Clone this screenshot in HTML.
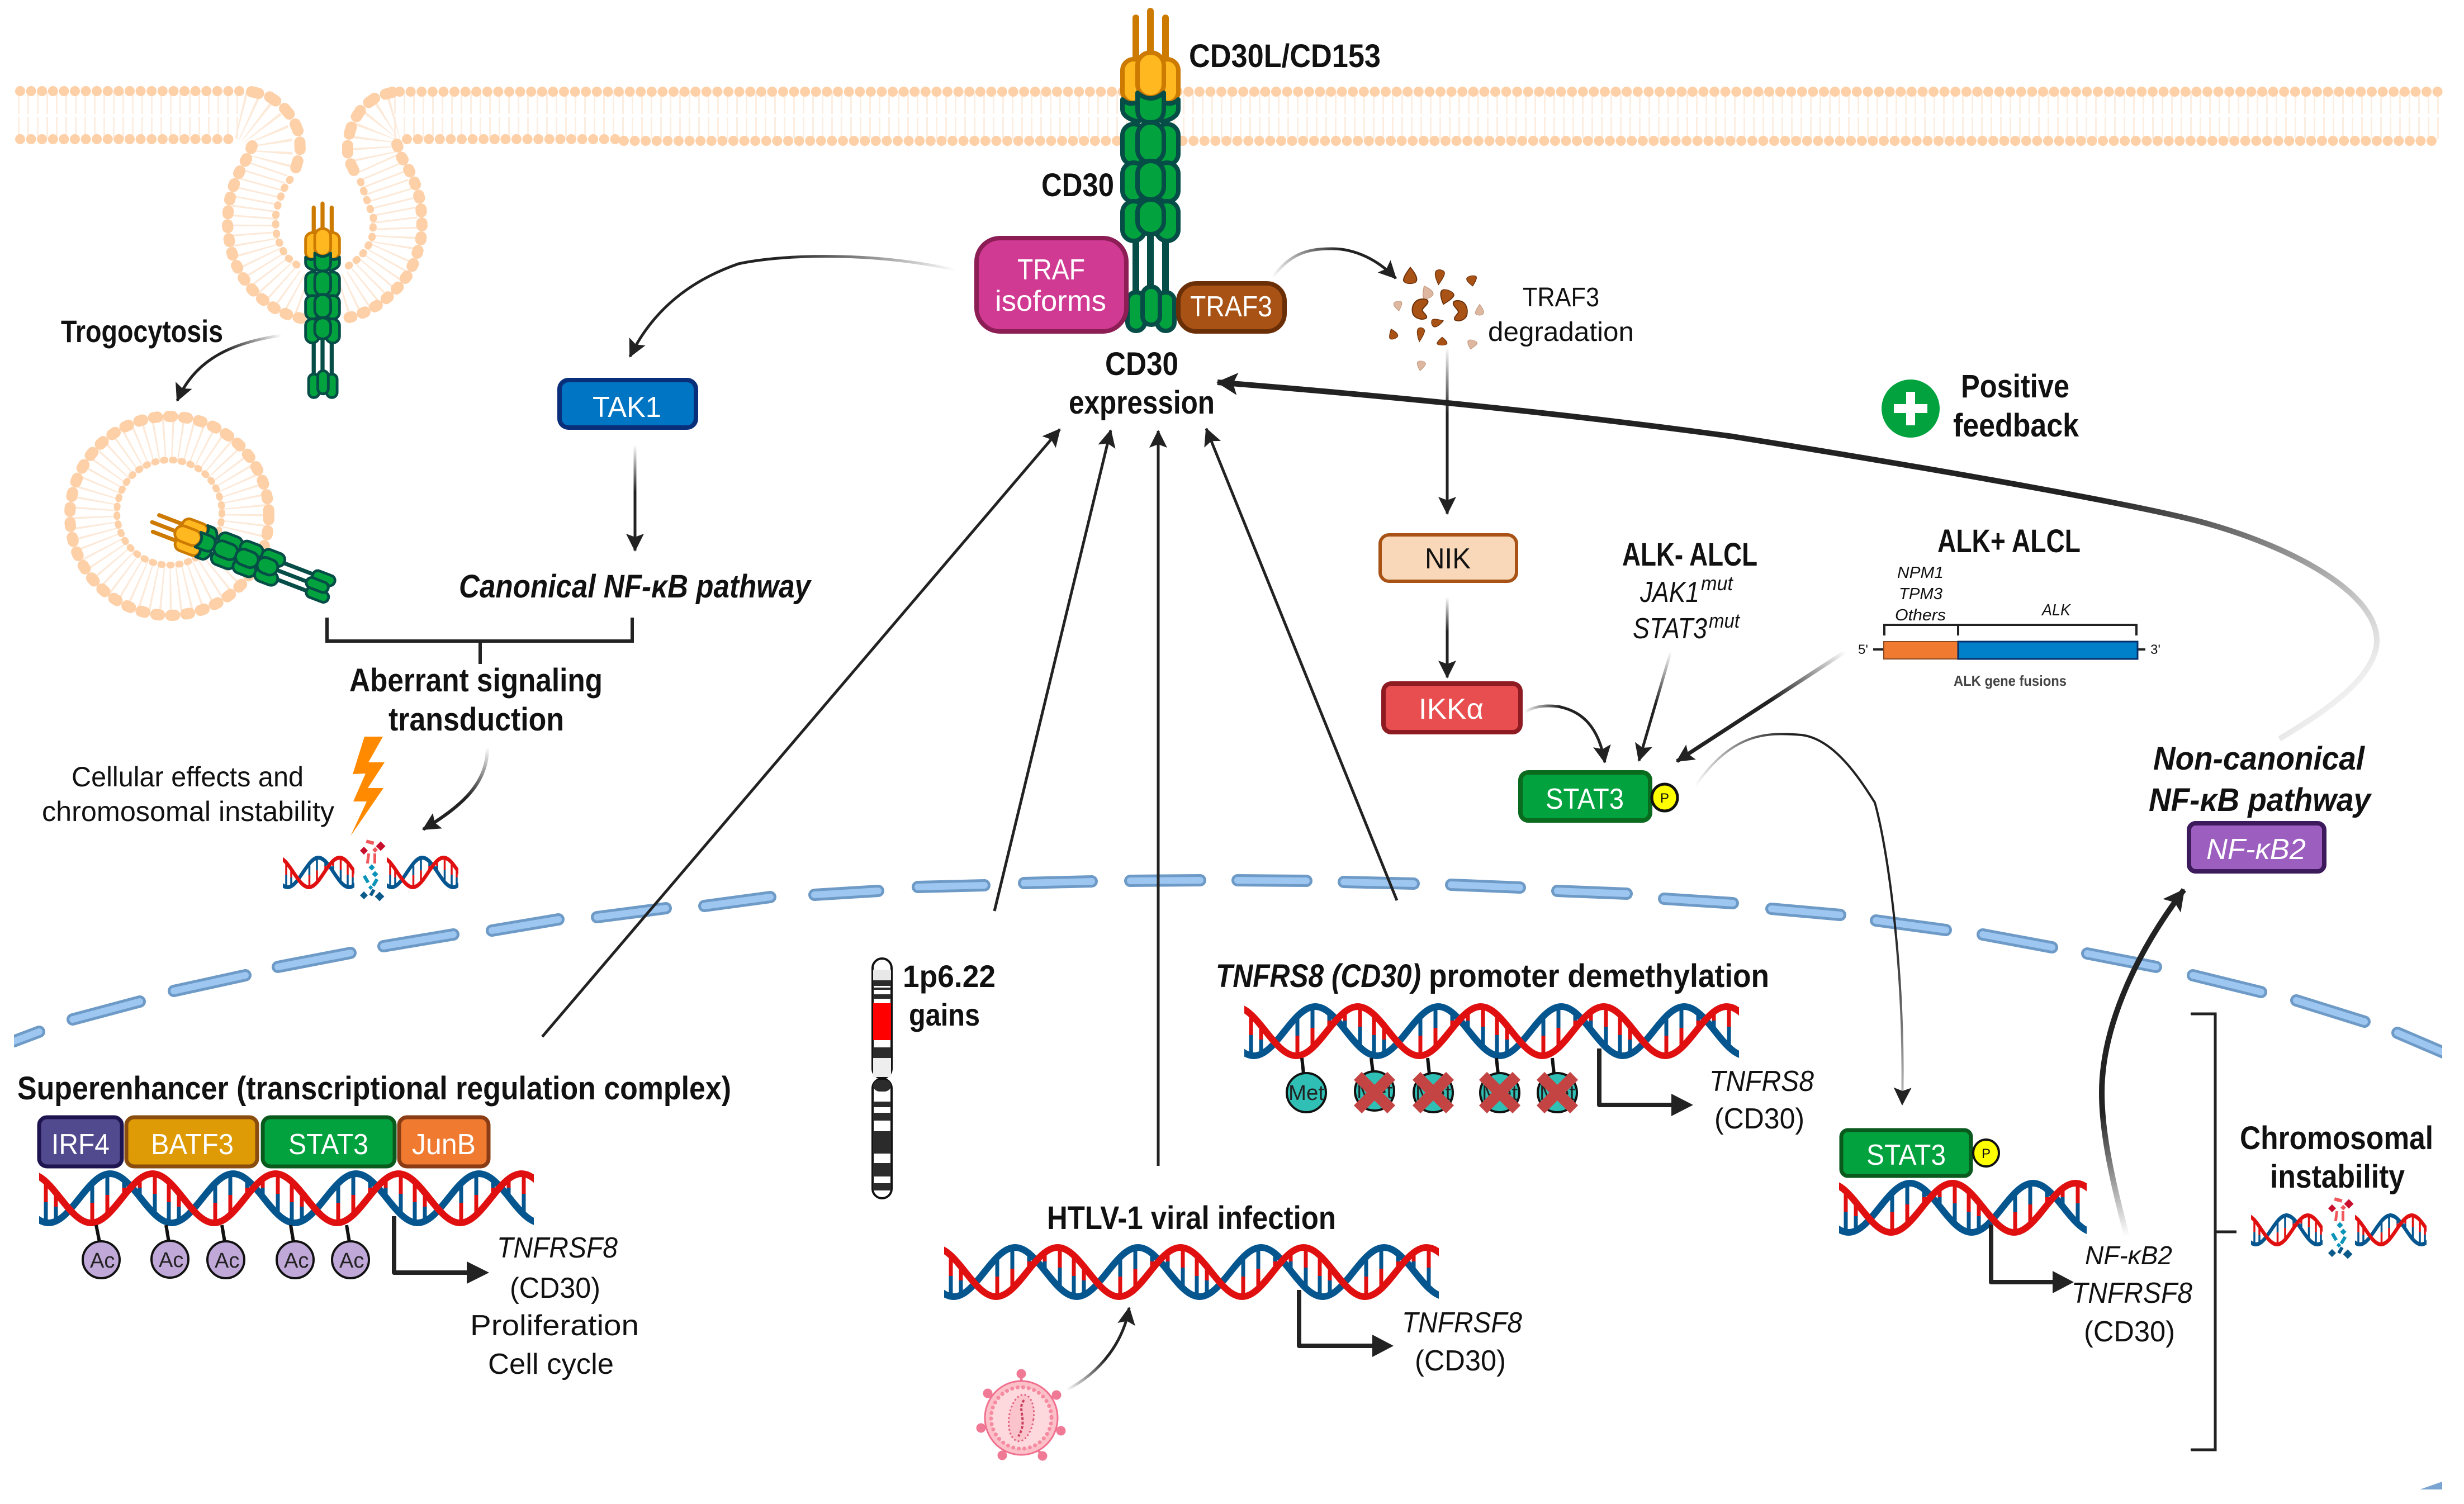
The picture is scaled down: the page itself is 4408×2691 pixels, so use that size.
<!DOCTYPE html>
<html><head><meta charset="utf-8"><title>CD30 signaling</title>
<style>
html,body{margin:0;padding:0;background:#fff}
svg{display:block}
text{font-family:"Liberation Sans",sans-serif;fill:#111}
.b{font-weight:700;font-size:58px}
.r{font-size:52px}
.i{font-style:italic}
.bi{font-weight:700;font-style:italic;font-size:58px}
.w{fill:#fff}
.ln{fill:none;stroke:#222;stroke-width:5}
.th{fill:none;stroke-width:10}
.box{stroke-width:8}
.pr{fill:none;stroke:#222;stroke-width:8;stroke-linejoin:round}
.lip{fill:none;stroke:#fdd0a8;stroke-linecap:round}
.tail{fill:none;stroke:#fde9d8}
</style></head><body>
<svg width="4408" height="2691" viewBox="0 0 4408 2691" xmlns="http://www.w3.org/2000/svg">
<defs>
<marker id="a" markerUnits="userSpaceOnUse" markerWidth="34" markerHeight="34" refX="30" refY="16" orient="auto" overflow="visible"><path d="M32,16 L0,0 L6,16 L0,32Z" fill="#222"/></marker>
<marker id="a2" markerUnits="userSpaceOnUse" markerWidth="46" markerHeight="46" refX="36" refY="20" orient="auto" overflow="visible"><path d="M38,20 L0,0 L8,20 L0,40Z" fill="#222"/></marker>
<linearGradient id="g" ><stop offset="0" stop-color="#fff"/><stop offset="1" stop-color="#222"/></linearGradient>
<linearGradient id="g1" href="#g" gradientUnits="userSpaceOnUse" x1="504" y1="600" x2="400" y2="620"/>
<linearGradient id="g2" href="#g" gradientUnits="userSpaceOnUse" x1="1709" y1="483" x2="1400" y2="459"/>
<linearGradient id="g3" href="#g" gradientUnits="userSpaceOnUse" x1="1136" y1="796" x2="1136" y2="880"/>
<linearGradient id="g4" href="#g" gradientUnits="userSpaceOnUse" x1="872" y1="1337" x2="850" y2="1430"/>
<linearGradient id="g5" href="#g" gradientUnits="userSpaceOnUse" x1="2276" y1="497" x2="2400" y2="445"/>
<linearGradient id="g6" href="#g" gradientUnits="userSpaceOnUse" x1="2589" y1="620" x2="2589" y2="740"/>
<linearGradient id="g7" href="#g" gradientUnits="userSpaceOnUse" x1="2589" y1="1068" x2="2589" y2="1130"/>
<linearGradient id="g8" href="#g" gradientUnits="userSpaceOnUse" x1="2727" y1="1275" x2="2790" y2="1264"/>
<linearGradient id="g9" href="#g" gradientUnits="userSpaceOnUse" x1="2989" y1="1166" x2="2965" y2="1260"/>
<linearGradient id="g10" href="#g" gradientUnits="userSpaceOnUse" x1="3301" y1="1166" x2="3170" y2="1250"/>
<linearGradient id="g11" href="#g" gradientUnits="userSpaceOnUse" x1="3032" y1="1407" x2="3200" y2="1315"/>
<linearGradient id="g12" href="#g" gradientUnits="userSpaceOnUse" x1="4150" y1="1340" x2="3750" y2="890"/>
<linearGradient id="g13" href="#g" gradientUnits="userSpaceOnUse" x1="3805" y1="2212" x2="3765" y2="1990"/>
<linearGradient id="g15" href="#g" gradientUnits="userSpaceOnUse" x1="1908" y1="2487" x2="1985" y2="2440"/>

<clipPath id="c885"><rect x="0" y="-4" width="885" height="108"/></clipPath>
<clipPath id="c443"><rect x="0" y="-4" width="443" height="108"/></clipPath>
<clipPath id="c256"><rect x="0" y="-4" width="256" height="108"/></clipPath>
<g id="rp" stroke-width="7">
<path d="M12 20V57" stroke="#e01010"/><path d="M12 57V94" stroke="#05558f"/>
<path d="M30 40V65" stroke="#e01010"/><path d="M30 65V91" stroke="#05558f"/>
<path d="M95 23V58" stroke="#05558f"/><path d="M95 58V94" stroke="#e01010"/>
<path d="M122 6V44" stroke="#05558f"/><path d="M122 44V80" stroke="#e01010"/>
<path d="M152 17V31" stroke="#05558f"/><path d="M152 31V45" stroke="#e01010"/>
<path d="M180 15V31" stroke="#e01010"/><path d="M180 31V48" stroke="#05558f"/>
<path d="M207 6V42" stroke="#e01010"/><path d="M207 42V79" stroke="#05558f"/>
</g>
<g id="dnaC">
<use href="#rp"/><use href="#rp" x="220"/><use href="#rp" x="440"/><use href="#rp" x="660"/>
<path d="M-93 6C-53 6 -23 94 17 94S87 6 127 6S197 94 237 94S307 6 347 6S417 94 457 94S527 6 567 6S637 94 677 94S747 6 787 6S857 94 897 94" fill="none" stroke="#05558f" stroke-width="12"/>
<path d="M-17 6C23 6 53 94 93 94S163 6 203 6S273 94 313 94S383 6 423 6S493 94 533 94S603 6 643 6S713 94 753 94S823 6 863 6S933 94 973 94" fill="none" stroke="#e01010" stroke-width="12"/>
</g>
<g id="dna"><g clip-path="url(#c885)"><use href="#dnaC"/></g></g>
<g id="dnas"><g clip-path="url(#c443)"><use href="#dnaC"/></g></g>
<g id="dnap"><g clip-path="url(#c256)"><use href="#dnaC"/></g></g>

<g id="frag">
<g fill="#c8102e"><rect x="-6" y="-6" width="12" height="12" transform="translate(16,-46) rotate(45)"/><rect x="-5" y="-5" width="10" height="10" transform="translate(-14,-38) rotate(45)"/></g>
<g fill="#f0585c"><rect x="-7" y="-3" width="14" height="6" transform="translate(-3,-53) rotate(15)"/><rect x="-3" y="-3" width="7" height="7" transform="translate(6,-40) rotate(45)"/><rect x="-3" y="-9" width="5" height="18" transform="translate(-6,-24) rotate(8)"/><rect x="-3" y="-9" width="5" height="18" transform="translate(6,-24)"/></g>
<g fill="#0a93b8"><rect x="-4" y="-4" width="8" height="8" transform="translate(0,-8) rotate(45)"/><rect x="-4" y="-4" width="8" height="8" transform="translate(6,4) rotate(45)"/><rect x="-7" y="-3" width="14" height="6" transform="translate(-10,13) rotate(60)"/><rect x="-7" y="-3" width="14" height="6" transform="translate(6,19) rotate(-60)"/><rect x="-3" y="-3" width="6" height="6" transform="translate(-2,28) rotate(45)"/></g>
<g fill="#0b5a8a"><rect x="-5" y="-5" width="10" height="10" transform="translate(-14,42) rotate(45)"/><rect x="-6" y="-6" width="12" height="12" transform="translate(14,44) rotate(45)"/><rect x="-3" y="-6" width="6" height="12" transform="translate(1,37) rotate(30)"/></g>
</g>

<g id="rec">
<path d="M-26,112V32M27,112V32M0,100V20" fill="none" stroke="#cc7a00" stroke-width="12" stroke-linecap="round"/>
<g fill="#ffb81f" stroke="#cc7a00" stroke-width="8">
<rect x="-50" y="106" width="40" height="78" rx="20"/><rect x="10" y="106" width="40" height="78" rx="20"/>
<rect x="-23" y="94" width="47" height="80" rx="23"/>
</g>
<path d="M-26,420V520M27,420V520M0,420V520" fill="none" stroke="#054d46" stroke-width="12"/>
<g fill="#02a23e" stroke="#054d46" stroke-width="8" stroke-linejoin="round">
<path d="M-50,178Q-38,190 -22,182L-10,182V200Q-10,217 -25,217Q-50,210 -50,195Z"/><path d="M50,178Q38,190 22,182L10,182V200Q10,217 25,217Q50,210 50,195Z"/>
<rect x="-50" y="222" width="40" height="73" rx="20"/><rect x="10" y="222" width="40" height="73" rx="20"/>
<rect x="-50" y="291" width="40" height="70" rx="20"/><rect x="10" y="291" width="40" height="70" rx="20"/>
<rect x="-50" y="360" width="40" height="71" rx="20"/><rect x="10" y="360" width="40" height="71" rx="20"/>
<path d="M-23,166Q0,186 24,166V195Q24,219 0,219Q-23,219 -23,195Z"/>
<rect x="-23" y="219" width="47" height="72" rx="23"/><rect x="-23" y="288" width="47" height="69" rx="23"/><rect x="-23" y="357" width="47" height="62" rx="23"/>
<rect x="-41" y="523" width="31" height="69" rx="15"/><rect x="12" y="523" width="31" height="69" rx="15"/>
<rect x="-14" y="513" width="31" height="68" rx="15"/>
</g>
</g>
<path id="nuc" d="M25,1863L70,1846M130,1824L250,1792M311,1773L439,1745M497,1730L627,1705M686,1693L811,1672M880,1665L999,1645M1068,1641L1191,1625M1260,1621L1378,1605M1457,1601L1571,1594M1642,1587L1761,1584M1832,1580L1953,1577M2022,1576L2147,1575M2214,1575L2337,1576M2404,1578L2529,1581M2596,1583L2719,1588M2786,1594L2910,1599M2977,1608L3100,1616M3169,1626L3292,1637M3356,1647L3481,1664M3547,1672L3671,1695M3734,1706L3857,1730M3923,1745L4045,1775M4108,1790L4230,1828M4289,1848L4385,1889" fill="none" stroke-linecap="round"/>
<clipPath id="cn"><rect x="25" y="1500" width="4344" height="500"/></clipPath>
<g id="x"><path d="M-30,-30L30,30M30,-30L-30,30" stroke="#c44444" stroke-width="20" fill="none"/></g>
<path id="drop" d="M0,-26C8,-10 13,4 11,14C9,25 -9,26 -12,14C-13,4 -6,-12 0,-26Z"/>
<path id="kid" d="M4,-18C-12,-18 -17,-5 -15,6C-13,16 0,20 8,17C14,14 6,8 3,4C0,0 10,-6 12,-11C14,-16 10,-18 4,-18Z"/>
</defs>

<rect width="4408" height="2691" fill="#fff"/>

<!-- plasma membrane -->
<path class="tail" stroke-width="86" stroke-dasharray="3 14" d="M32,206H430M705,206H4369" style="stroke:#fdeee2"/>
<path d="M32,206.500H430M705,206.500H4369" stroke="#fff" stroke-width="5" fill="none"/>
<path class="tail" stroke-width="84" stroke-dasharray="3 12" d="M430,206C470,215 490,250 478,290C460,340 445,400 460,450C475,490 510,525 545,535"/>
<path class="tail" stroke-width="84" stroke-dasharray="3 12" d="M705,206C670,215 660,250 672,290C695,340 715,400 702,450C685,490 650,525 612,535"/>
<path class="lip" stroke-width="18" stroke-dasharray="0 19.600" d="M36,163H436M715,164H4369"/>
<path class="lip" stroke-width="18" stroke-dasharray="0 19.600" d="M36,249H427M728,249H1110M1116,252H4369"/>
<path class="lip" stroke-width="20" stroke-dasharray="13 21" d="M450,164L479,171L504,188L524,212L536,241L537,273L529,301"/>
<path class="lip" stroke-width="13" stroke-dasharray="2 15" d="M519,321L509,336L498,362L493,387L493,400L495,424L511,458L536,478"/>
<path class="lip" stroke-width="20" stroke-dasharray="13 21" d="M702,165L674,173L649,191L631,219L622,249L622,282L634,307"/>
<path class="lip" stroke-width="13" stroke-dasharray="2 15" d="M645,325L656,357L668,389L668,400L665,430L645,460L620,478"/>
<path class="lip" stroke-width="20" stroke-dasharray="5 20" d="M451,261L444,279L435,295L425,314L417,335L411,357L408,379L407,402L409,424L413,446L420,469L431,491L444,510L460,528L479,543L498,556L520,565L545,571"/>
<path class="lip" stroke-width="20" stroke-dasharray="5 20" d="M710,258L718,281L728,297L738,317L746,338L752,360L754,383L755,406L753,428L747,451L739,473L728,494L713,513L696,530L679,544L658,556L637,565L612,571"/>
<!-- vesicle -->
<circle cx="303" cy="920" r="136" class="tail" stroke-width="84" stroke-dasharray="3 12"/>
<circle cx="303" cy="923" r="178" class="lip" stroke-width="20" stroke-dasharray="7 20"/>
<circle cx="303" cy="917" r="94" class="lip" stroke-width="12" stroke-dasharray="3 13"/>

<use href="#rec" transform="translate(577,352) scale(.607)"/>
<use href="#rec" transform="translate(261,930) rotate(-69) scale(.6)"/>
<use href="#rec" transform="translate(2058,0)"/>

<!-- nuclear envelope -->
<g clip-path="url(#cn)"><use href="#nuc" stroke="#6d9ac6" stroke-width="22"/><use href="#nuc" stroke="#9dc6f1" stroke-width="12"/></g>
<path d="M4329,2665L4369,2651V2665Z" fill="#7aa5d2"/>

<!-- connectors -->
<path class="ln" style="stroke:url(#g1)" marker-end="url(#a)" d="M504,600C420,612 350,640 317,717"/>
<path class="ln" style="stroke:url(#g2)" marker-end="url(#a)" d="M1709,483C1560,450 1400,455 1321,472C1240,500 1170,550 1127,638"/>
<path class="ln" style="stroke:url(#g3)" marker-end="url(#a)" d="M1136,796V985"/>
<path class="ln" style="stroke:url(#g4);stroke-width:6" marker-end="url(#a)" d="M872,1337C872,1400 830,1440 757,1484"/>
<path class="ln" style="stroke:url(#g5)" marker-end="url(#a)" d="M2276,497C2310,450 2345,445 2383,445C2425,445 2465,465 2497,498"/>
<path class="ln" style="stroke:url(#g6)" marker-end="url(#a)" d="M2589,625V919"/>
<path class="ln" style="stroke:url(#g7)" marker-end="url(#a)" d="M2589,1068V1212"/>
<path class="ln" style="stroke:url(#g8)" marker-end="url(#a)" d="M2727,1275C2745,1262 2770,1262 2787,1264C2830,1272 2860,1300 2871,1364"/>
<path class="ln" style="stroke:url(#g9)" marker-end="url(#a)" d="M2989,1166L2932,1361"/>
<path class="ln" style="stroke:url(#g10);stroke-width:7" marker-end="url(#a)" d="M3301,1166L3000,1362"/>
<path class="ln" style="stroke:url(#g11);stroke-width:4" marker-end="url(#a)" d="M3032,1407C3100,1310 3160,1310 3223,1315C3280,1322 3325,1390 3354,1436C3380,1530 3408,1750 3403,1976"/>
<path class="th" style="stroke:url(#g12)" marker-end="url(#a2)" d="M4078,1322C4130,1290 4252,1220 4252,1146C4252,1060 4100,980 3953,938C3850,908 3500,845 3100,781C2800,740 2500,710 2178,684"/>
<path class="th" style="stroke:url(#g13)" marker-end="url(#a2)" d="M3805,2212C3775,2100 3760,2020 3760,1955C3760,1850 3810,1720 3907,1592"/>
<path class="ln" marker-end="url(#a)" d="M970,1855L1896,768"/>
<path class="ln" marker-end="url(#a)" d="M1779,1630L1987,770"/>
<path class="ln" marker-end="url(#a)" d="M2072,2086V771"/>
<path class="ln" marker-end="url(#a)" d="M2499,1611L2158,767"/>
<path class="ln" style="stroke:url(#g15)" marker-end="url(#a)" d="M1908,2487C1970,2455 2010,2400 2020,2340"/>
<!-- aberrant bracket -->
<path d="M585,1105V1147H1131V1105M859,1147V1188" fill="none" stroke="#222" stroke-width="6"/>
<path d="M3919,1814H3963V2594H3919M3963,2204H4001" fill="none" stroke="#222" stroke-width="5"/>

<!-- boxes top -->
<rect x="1747" y="426" width="268" height="167" rx="42" fill="#d03a93" stroke="#8c1d55" class="box"/>
<rect x="2108" y="507" width="190" height="86" rx="32" fill="#a85215" stroke="#6b2f08" class="box"/>
<rect x="1001" y="680" width="244" height="85" rx="16" fill="#0075c4" stroke="#0a2f7a" class="box"/>
<rect x="2469" y="957" width="244" height="83" rx="16" fill="#f8d8b8" stroke="#a85215" stroke-width="6"/>
<rect x="2475" y="1223" width="245" height="87" rx="14" fill="#e84e4f" stroke="#8e1a22" class="box"/>
<rect x="2720" y="1382" width="232" height="86" rx="14" fill="#02a23e" stroke="#0a6a1e" class="box"/>
<ellipse cx="2978" cy="1427" rx="23" ry="24" fill="#ff0" stroke="#111" stroke-width="5"/>
<rect x="3916" y="1473" width="242" height="86" rx="12" fill="#9c5fc0" stroke="#3d1a5c" class="box"/>

<circle cx="3418" cy="731" r="52" fill="#02a23e"/>
<path d="M3418,701V761M3388,731H3448" stroke="#fff" stroke-width="16" fill="none"/>

<!-- traf3 degradation fragments -->
<g fill="#a85215" stroke="#6b2f08" stroke-width="2">
<use href="#drop" transform="translate(2523,494) scale(1,.6)"/>
<use href="#drop" transform="translate(2575,495) rotate(186) scale(.7,.55)"/>
<use href="#drop" transform="translate(2633,502) rotate(170) scale(.75,.38)"/>
<use href="#drop" transform="translate(2587,531) rotate(200) scale(1,.55)"/>
<use href="#kid" transform="translate(2542,553)"/>
<use href="#kid" transform="translate(2611,556) scale(-.9,1)"/>
<use href="#drop" transform="translate(2571,577) rotate(75) scale(.6,.45)"/>
<use href="#drop" transform="translate(2492,598) rotate(-20) scale(.65,.38)"/>
<use href="#drop" transform="translate(2541,598) rotate(188) scale(.55,.52)"/>
<use href="#drop" transform="translate(2580,611) scale(.75,.3)"/>
</g>
<g fill="#d9ab90" stroke="#b98a6c" stroke-width="2" opacity=".85">
<use href="#drop" transform="translate(2553,523) rotate(-25) scale(.8,.48)"/>
<use href="#drop" transform="translate(2501,547) rotate(170) scale(.62,.36)"/>
<use href="#drop" transform="translate(2647,555) scale(.62,.4)"/>
<use href="#drop" transform="translate(2633,616) rotate(195) scale(.7,.34)"/>
<use href="#drop" transform="translate(2542,654) rotate(190) scale(.62,.36)"/>
</g>

<!-- bolt -->
<path d="M652,1318H685L659,1364H688L658,1410H686L627,1496L656,1434H632L654,1384L631,1385Z" fill="#ff8a00"/>

<!-- broken DNA -->
<use href="#dnap" transform="translate(506,1531) scale(.5,.6)"/>
<use href="#dnap" transform="translate(692,1531) scale(.5,.6)"/>
<use href="#frag" transform="translate(665,1560)"/>
<use href="#dnap" transform="translate(4027,2171) scale(.5,.59)"/>
<use href="#dnap" transform="translate(4213,2171) scale(.5,.59)"/>
<use href="#frag" transform="translate(4186,2200)"/>

<!-- ALK gene fusion -->
<path d="M3371,1137V1118H3822V1137M3503,1118V1137" fill="none" stroke="#222" stroke-width="4"/>
<path d="M3351,1162H3370M3824,1162H3838" stroke="#222" stroke-width="4" fill="none"/>
<rect x="3370" y="1148" width="133" height="31" fill="#ef7a30" stroke="#8a4a20" stroke-width="2"/>
<rect x="3503" y="1148" width="321" height="31" fill="#0080c8" stroke="#06306a" stroke-width="3"/>

<!-- Superenhancer -->
<rect x="70" y="1999" width="148" height="88" rx="14" fill="#524a8e" stroke="#1e1550" stroke-width="7"/>
<rect x="226" y="1999" width="234" height="88" rx="14" fill="#de9b05" stroke="#8a4d10" stroke-width="7"/>
<rect x="470" y="1999" width="236" height="88" rx="14" fill="#02a23e" stroke="#0a5a1e" stroke-width="7"/>
<rect x="714" y="1999" width="160" height="88" rx="14" fill="#ef7a30" stroke="#8a3c14" stroke-width="7"/>
<use href="#dna" transform="translate(70,2094)"/>
<path d="M172,2192L178,2222M297,2192L302,2222M397,2192L402,2222M520,2192L525,2222M620,2192L625,2222" stroke="#111" stroke-width="6" fill="none"/>
<g fill="#c0a8d8" stroke="#111" stroke-width="4">
<circle cx="181" cy="2254" r="33"/><circle cx="304" cy="2253" r="33"/><circle cx="404" cy="2254" r="33"/><circle cx="528" cy="2254" r="33"/><circle cx="627" cy="2254" r="33"/></g>
<path class="pr" d="M705,2176V2277H840"/><path d="M835,2257L875,2277L835,2297Z" fill="#222"/>

<!-- demethylation -->
<use href="#dna" transform="translate(2226,1795)"/>
<path d="M2329,1893L2332,1921M2453,1893L2456,1918M2554,1893L2557,1921M2677,1893L2680,1921M2777,1893L2780,1921" stroke="#111" stroke-width="6" fill="none"/>
<g fill="#2fbfb5" stroke="#111" stroke-width="4">
<circle cx="2337" cy="1955" r="35"/><circle cx="2459" cy="1952" r="35"/><circle cx="2564" cy="1955" r="35"/><circle cx="2683" cy="1955" r="35"/><circle cx="2786" cy="1955" r="35"/></g>
<path class="pr" d="M2861,1876V1977H2995"/><path d="M2990,1957L3029,1977L2990,1997Z" fill="#222"/>

<!-- HTLV -->
<use href="#dna" transform="translate(1689,2226)"/>
<path class="pr" d="M2324,2308V2408H2460"/><path d="M2455,2388L2493,2408L2455,2428Z" fill="#222"/>
<!-- virus -->
<g stroke="#f07a96" stroke-width="5" fill="#f07a96">
<path d="M1827,2476V2458M1780,2505L1767,2493M1875,2505L1890,2496M1765,2552L1755,2555M1890,2556L1898,2560M1797,2596L1793,2604M1858,2596L1865,2605" fill="none"/>
<circle cx="1827" cy="2458" r="6"/><circle cx="1767" cy="2493" r="6"/><circle cx="1890" cy="2496" r="6"/><circle cx="1755" cy="2555" r="6"/><circle cx="1898" cy="2560" r="6"/><circle cx="1793" cy="2604" r="6"/><circle cx="1865" cy="2605" r="6"/>
</g>
<ellipse cx="1827" cy="2537" rx="65" ry="66" fill="#fcc0c8" stroke="#f0708e" stroke-width="3"/>
<ellipse cx="1827" cy="2537" rx="54" ry="55" fill="#fdd9dd" stroke="#f58aa0" stroke-width="7" stroke-dasharray="0 10" stroke-linecap="round"/>
<ellipse cx="1827" cy="2537" rx="22" ry="42" fill="#fbc4cd" stroke="#e0607e" stroke-width="3" stroke-dasharray="3 4" transform="rotate(8 1827 2537)"/>
<path d="M1832,2505C1818,2522 1840,2540 1822,2570" fill="none" stroke="#c9405f" stroke-width="4" stroke-dasharray="5 3"/>

<!-- chromosome -->
<rect x="1561" y="1715" width="34" height="214" rx="17" fill="#fff" stroke="#111" stroke-width="4"/>
<rect x="1561" y="1930" width="34" height="214" rx="17" fill="#fff" stroke="#111" stroke-width="4"/>
<g fill="#2b2b2b">
<rect x="1562" y="1754" width="32" height="10"/><rect x="1562" y="1767" width="32" height="4"/><rect x="1562" y="1779" width="32" height="8"/>
<rect x="1562" y="1874" width="32" height="19"/>
<rect x="1562" y="1932" width="32" height="21" rx="12"/>
<rect x="1562" y="1971" width="32" height="10"/><rect x="1562" y="1991" width="32" height="14"/><rect x="1562" y="2024" width="32" height="40"/><rect x="1562" y="2081" width="32" height="24"/><rect x="1562" y="2117" width="32" height="13"/>
</g>
<rect x="1562" y="1795" width="32" height="66" fill="#f00"/>
<rect x="1562" y="1735" width="32" height="19" fill="#e8e8e8"/>
<rect x="1562" y="1893" width="32" height="34" fill="#eee"/>

<!-- STAT3 nuclear -->
<rect x="3294" y="2022" width="232" height="82" rx="12" fill="#02a23e" stroke="#0a5a1e" stroke-width="7"/>
<ellipse cx="3553" cy="2063" rx="23" ry="24" fill="#ff0" stroke="#111" stroke-width="4"/>
<use href="#dnas" transform="translate(3290,2111)"/>
<path class="pr" d="M3562,2191V2294H3680"/><path d="M3672,2274L3710,2294L3672,2314Z" fill="#222"/>

<!-- TEXT -->
<text class="b" x="2127" y="120" textLength="343" lengthAdjust="spacingAndGlyphs">CD30L/CD153</text>
<text class="b" x="1863" y="351" textLength="130" lengthAdjust="spacingAndGlyphs">CD30</text>
<text class="r w" x="1820" y="500" textLength="121" lengthAdjust="spacingAndGlyphs">TRAF</text>
<text class="r w" x="1780" y="556" textLength="199" lengthAdjust="spacingAndGlyphs">isoforms</text>
<text class="r w" x="2129" y="566" textLength="147" lengthAdjust="spacingAndGlyphs">TRAF3</text>
<text class="r" style="font-size:48px" x="2724" y="548" textLength="137" lengthAdjust="spacingAndGlyphs">TRAF3</text>
<text class="r" style="font-size:48px" x="2662" y="610" textLength="261" lengthAdjust="spacingAndGlyphs">degradation</text>
<text class="b" x="1977" y="671" textLength="131" lengthAdjust="spacingAndGlyphs">CD30</text>
<text class="b" x="1912" y="740" textLength="261" lengthAdjust="spacingAndGlyphs">expression</text>
<text class="b" style="font-size:56px" x="109" y="612" textLength="290" lengthAdjust="spacingAndGlyphs">Trogocytosis</text>
<text class="r w" x="1060" y="746" textLength="123" lengthAdjust="spacingAndGlyphs">TAK1</text>
<text class="bi" x="821" y="1069" textLength="629" lengthAdjust="spacingAndGlyphs">Canonical NF-κB pathway</text>
<text class="b" x="625" y="1237" textLength="453" lengthAdjust="spacingAndGlyphs">Aberrant signaling</text>
<text class="b" x="695" y="1307" textLength="314" lengthAdjust="spacingAndGlyphs">transduction</text>
<text class="r" style="font-size:50px" x="128" y="1407" textLength="415" lengthAdjust="spacingAndGlyphs">Cellular effects and</text>
<text class="r" style="font-size:50px" x="75" y="1469" textLength="523" lengthAdjust="spacingAndGlyphs">chromosomal instability</text>
<text class="b" x="3508" y="711" textLength="194" lengthAdjust="spacingAndGlyphs">Positive</text>
<text class="b" x="3494" y="781" textLength="225" lengthAdjust="spacingAndGlyphs">feedback</text>
<text class="r" x="2549" y="1017" text-anchor="start" textLength="82" lengthAdjust="spacingAndGlyphs">NIK</text>
<text class="r w" x="2538" y="1286" textLength="116" lengthAdjust="spacingAndGlyphs">IKKα</text>
<text class="b" x="2902" y="1012" textLength="242" lengthAdjust="spacingAndGlyphs">ALK- ALCL</text>
<text class="r i" x="2934" y="1077" textLength="106" lengthAdjust="spacingAndGlyphs">JAK1</text>
<text class="i" style="font-size:36px" x="3043" y="1056" textLength="57" lengthAdjust="spacingAndGlyphs">mut</text>
<text class="r i" x="2921" y="1142" textLength="133" lengthAdjust="spacingAndGlyphs">STAT3</text>
<text class="i" style="font-size:36px" x="3057" y="1123" textLength="55" lengthAdjust="spacingAndGlyphs">mut</text>
<text class="b" x="3466" y="988" textLength="256" lengthAdjust="spacingAndGlyphs">ALK+ ALCL</text>
<text class="i" style="font-size:29px" x="3394" y="1034" textLength="83" lengthAdjust="spacingAndGlyphs">NPM1</text>
<text class="i" style="font-size:29px" x="3397" y="1072" textLength="78" lengthAdjust="spacingAndGlyphs">TPM3</text>
<text class="i" style="font-size:29px" x="3390" y="1110" textLength="91" lengthAdjust="spacingAndGlyphs">Others</text>
<text class="i" style="font-size:29px" x="3653" y="1101" textLength="51" lengthAdjust="spacingAndGlyphs">ALK</text>
<text style="font-size:24px" x="3324" y="1170">5'</text>
<text style="font-size:24px" x="3847" y="1170">3'</text>
<text style="font-size:26px;font-weight:700;fill:#444" x="3495" y="1227" textLength="202" lengthAdjust="spacingAndGlyphs">ALK gene fusions</text>
<text class="r w" x="2765" y="1447" textLength="140" lengthAdjust="spacingAndGlyphs">STAT3</text>
<text style="font-size:24px" x="2970" y="1436">P</text>
<text class="bi" x="3852" y="1377" textLength="378" lengthAdjust="spacingAndGlyphs">Non-canonical</text>
<text class="bi" x="3844" y="1451" textLength="397" lengthAdjust="spacingAndGlyphs">NF-κB pathway</text>
<text class="r i w" x="3947" y="1537" textLength="178" lengthAdjust="spacingAndGlyphs">NF-κB2</text>
<text class="b" x="31" y="1967" textLength="1277" lengthAdjust="spacingAndGlyphs">Superenhancer (transcriptional regulation complex)</text>
<text class="r w" x="92" y="2065" textLength="104" lengthAdjust="spacingAndGlyphs">IRF4</text>
<text class="r w" x="270" y="2065" textLength="148" lengthAdjust="spacingAndGlyphs">BATF3</text>
<text class="r w" x="516" y="2065" textLength="143" lengthAdjust="spacingAndGlyphs">STAT3</text>
<text class="r w" x="737" y="2065" textLength="114" lengthAdjust="spacingAndGlyphs">JunB</text>
<g style="font-size:38px"><text x="161" y="2268" style="fill:#222">Ac</text><text x="284" y="2267" style="fill:#222">Ac</text><text x="384" y="2268" style="fill:#222">Ac</text><text x="508" y="2268" style="fill:#222">Ac</text><text x="607" y="2268" style="fill:#222">Ac</text></g>
<text class="r i" x="889" y="2250" textLength="216" lengthAdjust="spacingAndGlyphs">TNFRSF8</text>
<text class="r" x="912" y="2322" textLength="162" lengthAdjust="spacingAndGlyphs">(CD30)</text>
<text class="r" x="841" y="2389" textLength="302" lengthAdjust="spacingAndGlyphs">Proliferation</text>
<text class="r" x="873" y="2458" textLength="225" lengthAdjust="spacingAndGlyphs">Cell cycle</text>
<text class="b" style="font-size:56px" x="1615" y="1766" textLength="166" lengthAdjust="spacingAndGlyphs">1p6.22</text>
<text class="b" style="font-size:56px" x="1626" y="1835" textLength="127" lengthAdjust="spacingAndGlyphs">gains</text>
<text class="bi" x="2175" y="1766" textLength="367" lengthAdjust="spacingAndGlyphs">TNFRS8 (CD30)</text>
<text class="b" x="2556" y="1766" textLength="609" lengthAdjust="spacingAndGlyphs">promoter demethylation</text>
<g style="font-size:38px"><text x="2305" y="1968" textLength="64" lengthAdjust="spacingAndGlyphs" style="fill:#222">Met</text><text x="2427" y="1965" textLength="64" lengthAdjust="spacingAndGlyphs" style="fill:#222">Met</text><text x="2532" y="1968" textLength="64" lengthAdjust="spacingAndGlyphs" style="fill:#222">Met</text><text x="2651" y="1968" textLength="64" lengthAdjust="spacingAndGlyphs" style="fill:#222">Met</text><text x="2754" y="1968" textLength="64" lengthAdjust="spacingAndGlyphs" style="fill:#222">Met</text></g>
<use href="#x" transform="translate(2459,1955)"/><use href="#x" transform="translate(2564,1955)"/><use href="#x" transform="translate(2683,1955)"/><use href="#x" transform="translate(2786,1955)"/>
<text class="r i" x="3058" y="1952" textLength="187" lengthAdjust="spacingAndGlyphs">TNFRS8</text>
<text class="r" x="3067" y="2019" textLength="161" lengthAdjust="spacingAndGlyphs">(CD30)</text>
<text class="b" x="1873" y="2199" textLength="517" lengthAdjust="spacingAndGlyphs">HTLV-1 viral infection</text>
<text class="r i" x="2508" y="2384" textLength="215" lengthAdjust="spacingAndGlyphs">TNFRSF8</text>
<text class="r" x="2531" y="2452" textLength="163" lengthAdjust="spacingAndGlyphs">(CD30)</text>
<text class="r w" x="3339" y="2084" textLength="142" lengthAdjust="spacingAndGlyphs">STAT3</text>
<text style="font-size:24px" x="3545" y="2072">P</text>
<text class="r i" style="font-size:46px" x="3730" y="2262" textLength="156" lengthAdjust="spacingAndGlyphs">NF-κB2</text>
<text class="r i" x="3706" y="2331" textLength="216" lengthAdjust="spacingAndGlyphs">TNFRSF8</text>
<text class="r" x="3728" y="2400" textLength="163" lengthAdjust="spacingAndGlyphs">(CD30)</text>
<text class="b" x="4007" y="2056" textLength="346" lengthAdjust="spacingAndGlyphs">Chromosomal</text>
<text class="b" x="4061" y="2125" textLength="241" lengthAdjust="spacingAndGlyphs">instability</text>
</svg>
</body></html>
